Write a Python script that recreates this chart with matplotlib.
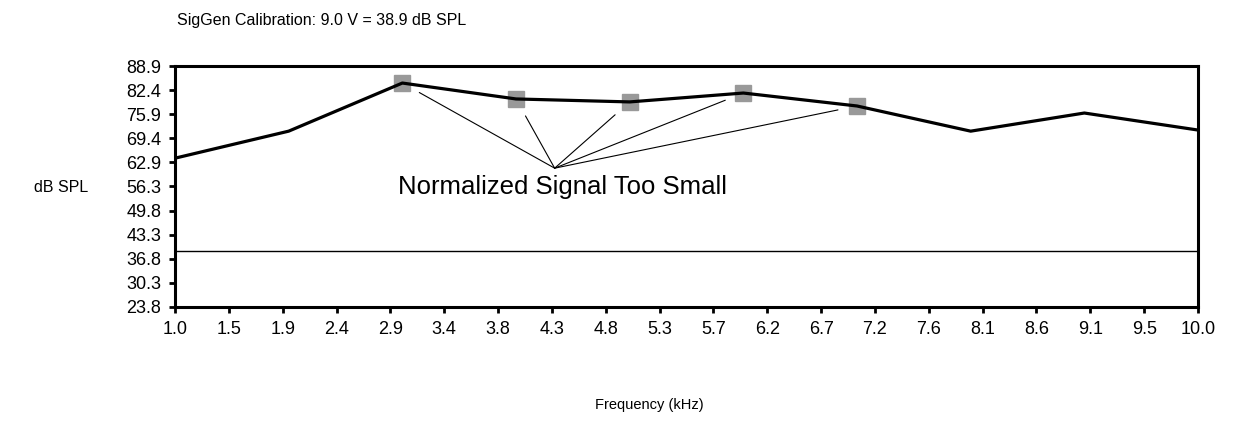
import numpy as np
import matplotlib
matplotlib.use("Agg")
import matplotlib.pyplot as plt

plt.rcParams["font.family"] = ["Liberation Sans", "DejaVu Sans"]

# frequency response (kHz, dB SPL)
freq_khz = [1.0, 2.0, 3.0, 4.0, 5.0, 6.0, 7.0, 8.0, 9.0, 10.0]
level_db = [64.0, 71.3, 84.3, 80.0, 79.2, 81.6, 78.1, 71.3, 76.2, 71.6]

# points flagged as "Normalized Signal Too Small"
flag_khz = [3.0, 4.0, 5.0, 6.0, 7.0]
flag_db = [84.3, 80.0, 79.2, 81.6, 78.1]

calib_db = 38.9

x_labels = ["1.0", "1.5", "1.9", "2.4", "2.9", "3.4", "3.8", "4.3", "4.8", "5.3",
            "5.7", "6.2", "6.7", "7.2", "7.6", "8.1", "8.6", "9.1", "9.5", "10.0"]
y_labels = ["23.8", "30.3", "36.8", "43.3", "49.8", "56.3", "62.9", "69.4",
            "75.9", "82.4", "88.9"]

note_xy = (4.34, 61.3)  # where the note's leader lines meet


fig = plt.figure(figsize=(12.43, 4.36), dpi=100)
ax = fig.add_axes([0.1408, 0.2959, 0.823, 0.5527])

ax.plot(flag_khz, flag_db, ls="none", marker="s", ms=11, mfc="#999999",
        mec="#999999", zorder=2)
ax.plot(freq_khz, level_db, color="black", lw=2.3, zorder=3)
ax.axhline(calib_db, color="black", lw=1.0, zorder=1)

for fx, fy in zip(flag_khz, flag_db):
    ax.annotate("", xy=(fx, fy), xytext=note_xy,
                arrowprops=dict(arrowstyle="-", color="black", lw=0.8,
                                shrinkA=0, shrinkB=14))
ax.text(4.41, 56.2, "Normalized Signal Too Small",
        ha="center", va="center", fontsize=18.5)

ax.set_xlim(1.0, 10.0)
ax.set_ylim(23.8, 88.9)
ax.set_xticks(np.linspace(1.0, 10.0, len(x_labels)))
ax.set_xticklabels(x_labels)
ax.set_yticks(np.linspace(23.8, 88.9, len(y_labels)))
ax.set_yticklabels(y_labels)
ax.tick_params(direction="out", length=4, width=2, labelsize=13, pad=6)

for s in ax.spines.values():
    s.set_linewidth(2.2)

fig.text(0.1425, 0.952, "SigGen Calibration: 9.0 V = 38.9 dB SPL",
         ha="left", va="center", fontsize=11.5)
fig.text(0.027, 0.571, "dB SPL", ha="left", va="center", fontsize=11.5)
fig.text(0.522, 0.071, "Frequency (kHz)", ha="center", va="center",
         fontsize=10.5)

fig.savefig("out.png", dpi=100)
